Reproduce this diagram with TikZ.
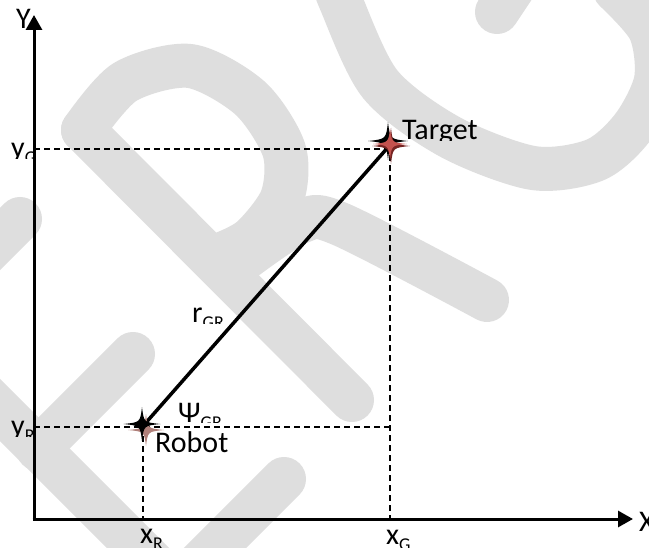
\documentclass[tikz,border=0pt]{standalone}
\usepackage{fontspec}
\setmainfont{Carlito}
\usetikzlibrary{arrows.meta}
\definecolor{wmgray}{RGB}{222,222,222}
\definecolor{starred}{RGB}{196,82,78}
\definecolor{stardark}{RGB}{118,36,34}
\definecolor{starshadow}{RGB}{176,128,122}
\newcommand\sbs[1]{\raisebox{-6bp}[\height][0pt]{\fontsize{18bp}{18bp}\selectfont #1}}
\begin{document}
\begin{tikzpicture}[x=1bp,y=-1bp,
  wm/.style={draw=wmgray,line width=44bp,line cap=round,line join=round},
  axisline/.style={line width=3bp,-{Triangle[length=15bp,width=16bp]}},
  guide/.style={line width=1.5bp,dash pattern=on 6bp off 4bp},
  vec/.style={line width=3.5bp},
  lab/.style={inner sep=0pt,anchor=base west,font=\fontsize{30bp}{32bp}\selectfont},
  pics/fstar/.style={code={\fill[#1] (0,-1) .. controls (0.1,-0.1) .. (1,0) .. controls (0.1,0.1) .. (0,1) .. controls (-0.1,0.1) .. (-1,0) .. controls (-0.1,-0.1) .. cycle;}}
]
\useasboundingbox (0,0) rectangle (649,548);
\fill[white] (0,0) rectangle (649,548);
% watermark
\begin{scope}
\clip (0,0) rectangle (649,548);
\draw[wm] (83,130) -- (352,400);
\draw[wm] plot[smooth] coordinates {(83,130) (125,82) (190,66) (250,98) (284,150) (282,198) (252,238) (222,254)};
\draw[wm] plot[smooth] coordinates {(240,262) (300,222) (340,224) (487,300)};
\draw[wm] plot[smooth] coordinates {(330,-30) (340,0) (380,84) (450,137) (533,168) (595,160) (633,127) (656,80) (650,30) (615,-10)};
\draw[wm] (525,-30) -- (497,12);
\draw[wm] (20,219) -- (-40,279);
\draw[wm] (-60,350) -- (200,610);
\draw[wm] (133,354) -- (38,449);
\draw[wm] (284,479) -- (160,603);
\end{scope}
% coordinates
\coordinate (O) at (34,519);
\coordinate (Ytip) at (34,15);
\coordinate (Xtip) at (633,519);
\coordinate (T) at (390,145);
\coordinate (R) at (143,426);
\coordinate (yG) at (34,149);
\coordinate (yR) at (34,427);
\coordinate (xR) at (143,519);
\coordinate (xG) at (390,519);
\coordinate (TG) at (390,149);
\coordinate (RG) at (390,427);
% guides
\draw[guide] (yG) -- (TG);
\draw[guide] (yR) -- (RG);
\draw[guide] (T) -- (xG);
\draw[guide] (R) -- (xR);
% axes
\draw[axisline] ([yshift=1.5bp]O) -- (Ytip);
\draw[axisline] ([xshift=-1.5bp]O) -- (Xtip);
% vector
\draw[vec] (R) -- (T);
% stars
\pic[xscale=20,yscale=19] at (388,141) {fstar=black};
\pic[xscale=19,yscale=18] at (391,146) {fstar=stardark};
\pic[xscale=17,yscale=15] at (390,144) {fstar=starred};
\pic[xscale=18,yscale=16] at (146,430) {fstar=starshadow};
\pic[xscale=18.5,yscale=17] at (142,424) {fstar=black};
% labels
\node[lab] (lY) at (16,29) {Y};
\node[lab] (lX) at (639,531) {X};
\begin{scope}
\clip (0,100) rectangle (34,158.5);
\node[lab] (lyG) at (11,158) {y\sbs{G}};
\end{scope}
\begin{scope}
\clip (0,400) rectangle (34,436);
\node[lab] (lyR) at (11,435.5) {y\sbs{R}};
\end{scope}
\node[lab] (lxR) at (140,543) {x\sbs{R}};
\node[lab] (lxG) at (386,544) {x\sbs{G}};
\begin{scope}
\clip (150,280) rectangle (260,323);
\node[lab] (lr) at (192,322) {r\sbs{GR}};
\end{scope}
\begin{scope}
\clip (150,380) rectangle (260,422);
\node[lab] (lpsi) at (178,422) {Ψ\sbs{GR}};
\end{scope}
\begin{scope}
\clip (395,100) rectangle (520,141);
\node[lab] (lT) at (402,140) {Target};
\end{scope}
\node[lab] (lRb) at (155,452) {Robot};
\end{tikzpicture}
\end{document}
